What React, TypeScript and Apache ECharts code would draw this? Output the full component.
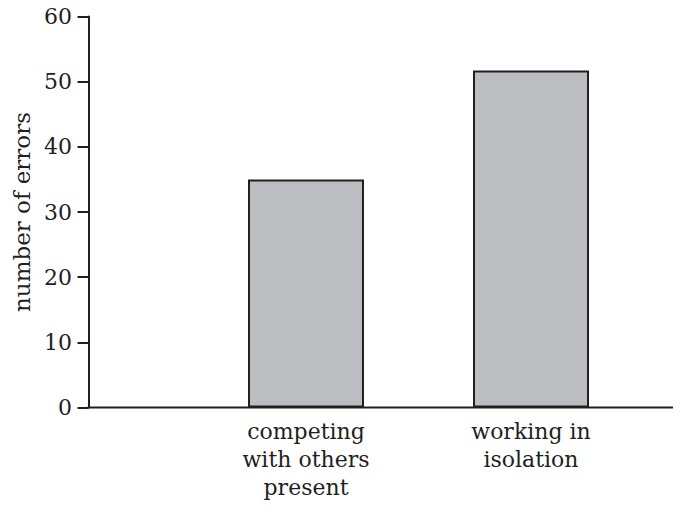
import React, { useEffect, useRef } from "react";
import * as echarts from "echarts";

const categories = ["competing\nwith others\npresent", "working in\nisolation"];
const errors = [35, 51.7];
const yTicks = { min: 0, max: 60, interval: 10 };
const yName = "number of errors";

const FONT = "'DejaVu Serif', serif";
const TXT = "#231f20";

export default function App() {
  const ref = useRef<HTMLDivElement>(null);
  useEffect(() => {
    document.body.style.margin = "0";
    const chart = echarts.init(ref.current!, null, { renderer: "svg" });
    chart.setOption({
      animation: false,
      backgroundColor: "#ffffff",
      grid: { left: 193.5, right: 36.5, top: 16.5, bottom: 104.5 },
      xAxis: {
        type: "category",
        data: categories,
        axisLine: { show: false },
        axisTick: { show: false },
        axisLabel: {
          margin: 10,
          fontFamily: FONT,
          fontSize: 22,
          lineHeight: 28,
          color: TXT,
          interval: 0,
        },
      },
      yAxis: {
        type: "value",
        min: yTicks.min,
        max: yTicks.max,
        interval: yTicks.interval,
        offset: 105,
        name: yName,
        nameLocation: "middle",
        nameGap: 50,
        nameTextStyle: { fontFamily: FONT, fontSize: 23, color: TXT },
        axisLine: { show: true, lineStyle: { color: TXT, width: 2 } },
        axisTick: { show: true, length: 11, lineStyle: { color: TXT, width: 2 } },
        axisLabel: { margin: 16.5, fontFamily: FONT, fontSize: 22, color: TXT },
        splitLine: { show: false },
      },
      graphic: [
        {
          type: "line",
          shape: { x1: 87.5, y1: 407.5, x2: 673, y2: 407.5 },
          style: { stroke: TXT, lineWidth: 2 },
          z: 10,
        },
      ],
      series: [
        {
          type: "bar",
          data: errors,
          barWidth: 116,
          itemStyle: { color: "#bcbdc1", borderColor: TXT, borderWidth: 2 },
        },
      ],
    });
    return () => chart.dispose();
  }, []);
  return (
    <div
      ref={ref}
      style={{ position: "fixed", left: 0, top: 0, width: 680, height: 512 }}
    />
  );
}
